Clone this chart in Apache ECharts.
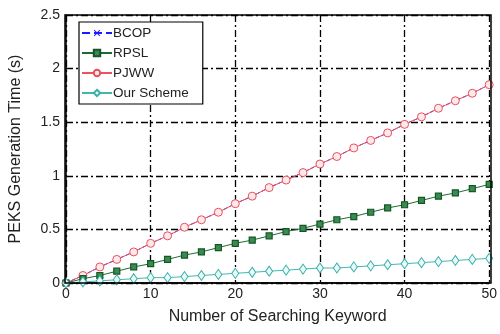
<!DOCTYPE html>
<html><head><meta charset="utf-8">
<script src="https://cdn.jsdelivr.net/npm/echarts@6/dist/echarts.min.js"></script>
<style>html,body{margin:0;padding:0;background:#fff}#c{width:500px;height:334px}</style>
</head><body><div id="c"></div>
<script>
const keywords = [0,2,4,6,8,10,12,14,16,18,20,22,24,26,28,30,32,34,36,38,40,42,44,46,48,50];
const bcop = [0,0.07,0.15,0.22,0.29,0.37,0.44,0.52,0.59,0.66,0.74,0.81,0.89,0.96,1.03,1.11,1.18,1.26,1.33,1.40,1.48,1.55,1.63,1.70,1.77,1.85];
const rpsl = [0,0.04,0.07,0.11,0.15,0.18,0.22,0.26,0.29,0.33,0.37,0.40,0.44,0.48,0.51,0.55,0.59,0.62,0.66,0.70,0.73,0.77,0.81,0.84,0.88,0.92];
const pjww = [0,0.07,0.15,0.22,0.29,0.37,0.44,0.52,0.59,0.66,0.74,0.81,0.89,0.96,1.03,1.11,1.18,1.26,1.33,1.40,1.48,1.55,1.63,1.70,1.77,1.85];
const ours = [0,0.01,0.02,0.03,0.04,0.05,0.05,0.06,0.07,0.08,0.09,0.10,0.11,0.12,0.13,0.14,0.14,0.15,0.16,0.17,0.18,0.19,0.20,0.21,0.22,0.23];
const seriesNames = ['BCOP','RPSL','PJWW','Our Scheme'];

const pair = arr => keywords.map((k,i)=>[k,arr[i]]);
const font = 'Liberation Sans, Arial, sans-serif';
const gridLine = {show:true, lineStyle:{color:'#000', width:1.3, type:[7,3,2,3]}};
const xSym = 'path://M0,1L1,0L5,4L9,0L10,1L6,5L10,9L9,10L5,6L1,10L0,9L4,5Z';

const chart = echarts.init(document.getElementById('c'));
chart.setOption({
  animation:false,
  grid:{left:65, right:9, top:15, bottom:51},
  legend:{
    orient:'vertical', left:79, top:22, data:seriesNames,
    backgroundColor:'#fff', borderColor:'#000', borderWidth:1.2,
    padding:[3,14,3,2], itemGap:4, itemWidth:30, itemHeight:8,
    textStyle:{fontFamily:font, fontSize:13.5, lineHeight:16, color:'#222', padding:[0,0,0,-4]}
  },
  xAxis:{
    type:'value', min:0, max:50, interval:10,
    name:'Number of Searching Keyword', nameLocation:'middle', nameGap:26,
    nameTextStyle:{fontFamily:font, fontSize:16, color:'#222'},
    axisLine:{show:true, onZero:false, lineStyle:{color:'#000', width:1.5}},
    axisTick:{show:false},
    axisLabel:{fontFamily:font, fontSize:14, color:'#222', margin:4},
    splitLine:gridLine
  },
  yAxis:{
    type:'value', min:0, max:2.5, interval:0.5,
    name:'PEKS Generation Time (s)', nameLocation:'middle', nameGap:42,
    nameTextStyle:{fontFamily:font, fontSize:16, color:'#222'},
    axisLine:{show:true, lineStyle:{color:'#000', width:1.5}},
    axisTick:{show:false},
    axisLabel:{fontFamily:font, fontSize:14, color:'#222', margin:6,
      formatter:v=>String(v)},
    splitLine:gridLine
  },
  series:[
    {name:'BCOP', type:'line', data:pair(bcop), z:1, symbol:xSym, symbolSize:6,
     lineStyle:{color:'#1a1aff', width:1, type:'dashed'}, itemStyle:{color:'#1a1aff'}},
    {name:'RPSL', type:'line', data:pair(rpsl), z:3, symbol:'rect', symbolSize:6,
     lineStyle:{color:'#1e6b32', width:1}, itemStyle:{color:'#3b8a4e', borderColor:'#14552a', borderWidth:1.2}},
    {name:'PJWW', type:'line', data:pair(pjww), z:2, symbol:'circle', symbolSize:8,
     lineStyle:{color:'#f05060', width:1}, itemStyle:{color:'#fde8ea', borderColor:'#e8505e', borderWidth:1}},
    {name:'Our Scheme', type:'line', data:pair(ours), z:4, symbol:'diamond', symbolSize:[7,10],
     lineStyle:{color:'#40b8b0', width:1}, itemStyle:{color:'#eafafa', borderColor:'#3ab0a8', borderWidth:1}}
  ],
  graphic:[{type:'rect', shape:{x:65, y:15, width:426, height:268}, style:{fill:'none', stroke:'#000', lineWidth:1.5}, z:10, silent:true}]
});
</script></body></html>
